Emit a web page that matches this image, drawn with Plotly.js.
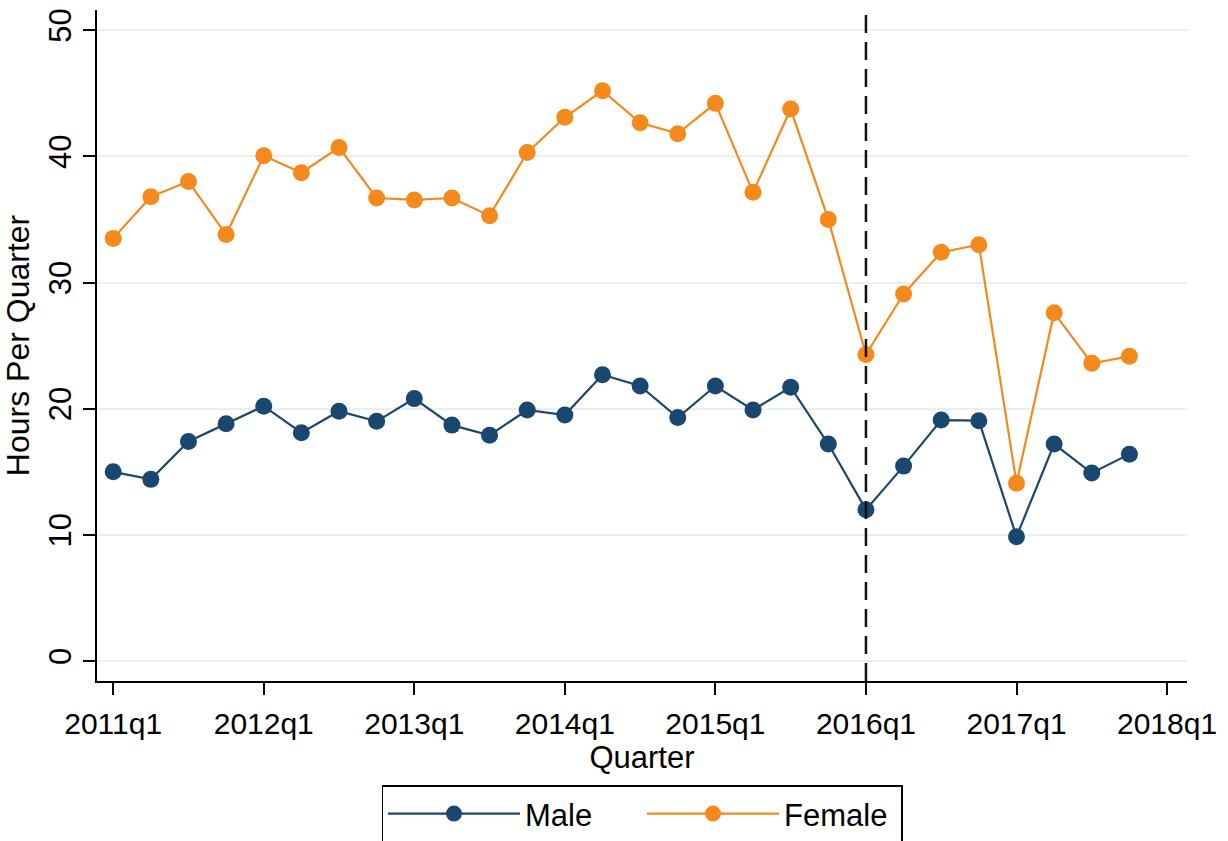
<!DOCTYPE html>
<html>
<head>
<meta charset="utf-8">
<script src="https://cdn.plot.ly/plotly-3.0.1.min.js"></script>
<style>html,body{margin:0;padding:0;background:#fff;}#chart{width:1228px;height:841px;}</style>
</head>
<body>
<div id="chart"></div>
<script>
const quarters = [
  "2011q1","2011q2","2011q3","2011q4",
  "2012q1","2012q2","2012q3","2012q4",
  "2013q1","2013q2","2013q3","2013q4",
  "2014q1","2014q2","2014q3","2014q4",
  "2015q1","2015q2","2015q3","2015q4",
  "2016q1","2016q2","2016q3","2016q4",
  "2017q1","2017q2","2017q3","2017q4"
];
const maleHours = [15.0,14.4,17.4,18.8,20.2,18.1,19.8,19.0,20.8,18.7,17.9,19.9,19.5,22.7,21.8,19.3,21.8,19.9,21.7,17.2,12.0,15.45,19.1,19.05,9.86,17.2,14.9,16.4];
const femaleHours = [33.5,36.8,38.0,33.8,40.05,38.7,40.7,36.7,36.55,36.7,35.3,40.3,43.1,45.2,42.66,41.8,44.2,37.15,43.75,35.0,24.3,29.1,32.4,33.0,14.1,27.6,23.6,24.15];
const tickLabels = ["2011q1","2012q1","2013q1","2014q1","2015q1","2016q1","2017q1","2018q1"];
const tickIdx = tickLabels.map((t,i)=>i*4);
const policyQuarter = "2016q1";
const idx = quarters.map((q,i)=>i);
const policyIdx = quarters.indexOf(policyQuarter);

const font = "Liberation Sans, Arial, sans-serif";
const fs = 30;
const traces = [
  {x: idx, y: maleHours, name: "Male", mode: "lines+markers", type: "scatter",
   line: {color: "#1a476f", width: 2.2}, marker: {color: "#1a476f", size: 17}},
  {x: idx, y: femaleHours, name: "Female", mode: "lines+markers", type: "scatter",
   line: {color: "#f58a1c", width: 2.2}, marker: {color: "#f58a1c", size: 17}}
];
const layout = {
  width: 1228, height: 841,
  paper_bgcolor: "#fff", plot_bgcolor: "#fff",
  margin: {l: 97, r: 41, t: 10, b: 160, autoexpand: false},
  font: {family: font, color: "#000", size: fs},
  showlegend: true,
  legend: {orientation: "h", x: 0.5, xanchor: "center", y: -0.1557, yanchor: "top",
    bordercolor: "#000", borderwidth: 1.5, bgcolor: "#fff",
    font: {family: font, size: 31, color: "#000"}, itemwidth: 132,
    entrywidth: 112, entrywidthmode: "pixels", tracegroupgap: 0},
  xaxis: {
    automargin: false,
    range: [-0.43, 28.53], tickvals: tickIdx, ticktext: tickLabels,
    showgrid: false, zeroline: false, showline: true, linecolor: "#000", linewidth: 1.5,
    ticks: "outside", ticklen: 12, tickwidth: 1.5, tickcolor: "#000",
    ticklabelstandoff: 3,
    tickfont: {family: font, size: fs, color: "#000"},
    title: {text: "Quarter", font: {family: font, size: 31, color: "#000"}, standoff: 0}
  },
  yaxis: {
    automargin: false,
    range: [-1.58, 51.6], tickvals: [0,10,20,30,40,50], tickangle: -90,
    showgrid: true, gridcolor: "#eaf0f2", gridwidth: 2, zeroline: false,
    showline: true, linecolor: "#000", linewidth: 1.5,
    ticks: "outside", ticklen: 12, tickwidth: 1.5, tickcolor: "#000",
    tickfont: {family: font, size: 31, color: "#000"},
    title: {text: "Hours Per Quarter", font: {family: font, size: 32, color: "#000"}, standoff: 4}
  },
  shapes: [{type: "line", xref: "x", yref: "paper", x0: policyIdx, x1: policyIdx, y0: 0, y1: 1,
    layer: "above", line: {color: "#111", width: 2.5, dash: "18px,9px"}}]
};
Plotly.newPlot("chart", traces, layout, {displayModeBar: false});
</script>
</body>
</html>
